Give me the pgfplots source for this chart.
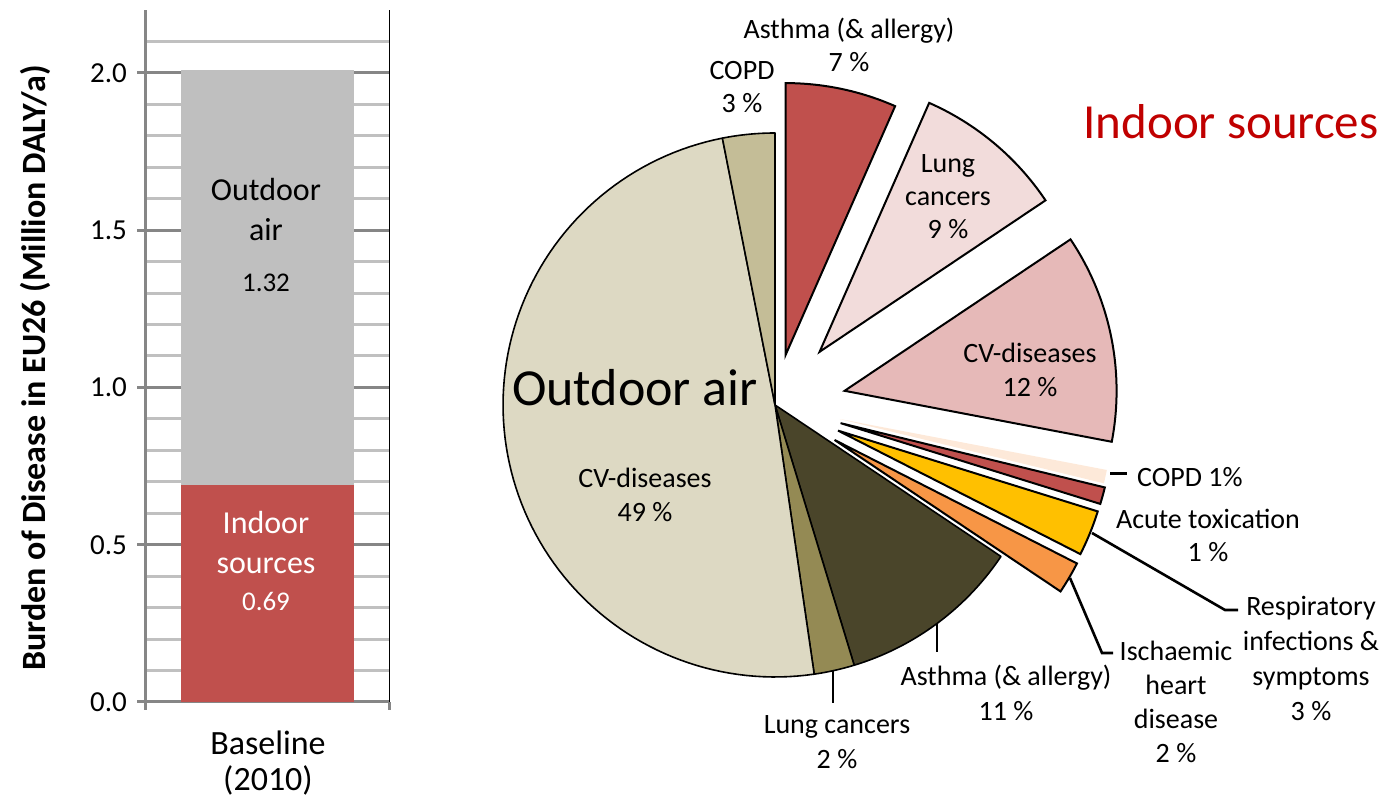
\documentclass[border=0pt]{standalone}
\usepackage{fontspec}
\setmainfont{Carlito}
\usepackage{pgfplots}
\pgfplotsset{compat=1.18}

\definecolor{barred}{HTML}{C0504D}
\definecolor{bargray}{HTML}{BFBFBF}
\definecolor{gridmajor}{HTML}{868686}
\definecolor{gridminor}{HTML}{C0C0C0}
\definecolor{cvout}{HTML}{DDD9C3}
\definecolor{copdout}{HTML}{C4BD97}
\definecolor{lungout}{HTML}{948A54}
\definecolor{asthmaout}{HTML}{4A452A}
\definecolor{asthmain}{HTML}{C0504D}
\definecolor{lungin}{HTML}{F2DCDB}
\definecolor{cvin}{HTML}{E6B9B8}
\definecolor{copdin}{HTML}{FDE9D9}
\definecolor{acutein}{HTML}{C0504D}
\definecolor{respin}{HTML}{FFC000}
\definecolor{ischin}{HTML}{F79646}
\definecolor{titlered}{HTML}{C00000}

% ---- data: burden of disease (Million DALY/a) ----
\def\indoorval{0.69}
\def\outdoorval{1.32}
% ---- pie shares (% of total burden) ----
\def\vAI{6.6}  % indoor asthma
\def\vLI{9.0}  % indoor lung cancers
\def\vCI{12.4} % indoor CV diseases
\def\vOI{0.8}  % indoor COPD
\def\vTI{1.0}  % acute toxication
\def\vRI{2.7}  % respiratory infections
\def\vHI{1.9}  % ischaemic heart disease
\def\vAO{10.9} % outdoor asthma
\def\vLO{2.4}  % outdoor lung cancers
\def\vCO{49.2} % outdoor CV diseases
\def\vOO{3.1}  % outdoor COPD

\pgfmathsetmacro\aA{90}
\pgfmathsetmacro\aB{\aA-3.6*\vAI}
\pgfmathsetmacro\aC{\aB-3.6*\vLI}
\pgfmathsetmacro\aD{\aC-3.6*\vCI}
\pgfmathsetmacro\aE{\aD-3.6*\vOI}
\pgfmathsetmacro\aF{\aE-3.6*\vTI}
\pgfmathsetmacro\aG{\aF-3.6*\vRI}
\pgfmathsetmacro\aH{\aG-3.6*\vHI}
\pgfmathsetmacro\aI{\aH-3.6*\vAO}
\pgfmathsetmacro\aJ{\aI-3.6*\vLO}
\pgfmathsetmacro\aK{\aJ-3.6*\vCO}
\pgfmathsetmacro\aL{\aK-3.6*\vOO}

\newcommand\offs[5]{\pgfmathsetmacro#1{#5*cos((#3+#4)/2)}\pgfmathsetmacro#2{#5*sin((#3+#4)/2)}}
\offs\xAI\yAI\aA\aB{0.1875}
\offs\xLI\yLI\aB\aC{0.255}
\offs\xCI\yCI\aC\aD{0.261}
\offs\xOI\yOI\aD\aE{0.243}
\offs\xTI\yTI\aE\aF{0.25}
\offs\xRI\yRI\aF\aG{0.25}
\offs\xHI\yHI\aG\aH{0.254}

\newcommand\pieslice[5]{\addplot[#1,domain=#2:#3,samples=100,variable=\t] ({#4+cos(\t)},{#5+sin(\t)}) -- (axis cs:#4,#5) -- cycle;}

\begin{document}
\begin{tikzpicture}
\useasboundingbox (0,0) rectangle (694pt,400.5pt);

% ================= bar chart =================
\begin{axis}[
  at={(72.5pt,49.5pt)}, anchor=south west,
  scale only axis, width=122.5pt, height=346pt,
  xmin=-1, xmax=1, ymin=0, ymax=2.2,
  ybar stacked, bar width=86pt,
  axis x line*=bottom, axis y line*=left,
  axis line style={draw=gridmajor, line width=1.5pt},
  ytick={0,0.5,1,1.5,2},
  minor ytick={0.1,0.2,0.3,0.4,0.6,0.7,0.8,0.9,1.1,1.2,1.3,1.4,1.6,1.7,1.8,1.9,2.1},
  ymajorgrids, yminorgrids,
  major grid style={draw=gridmajor, line width=1.5pt},
  minor grid style={draw=gridminor, line width=1.5pt},
  tick align=outside, major tick length=4pt, minor tick length=0pt,
  tick style={draw=gridmajor, line width=1.5pt},
  xtick={-1,1}, xticklabels={,,},
  yticklabel style={font=\fontsize{14.5}{14.5}\selectfont, xshift=-1.5pt},
  /pgf/number format/.cd, fixed, fixed zerofill, precision=1, assume math mode=true,
]
\addplot[fill=barred, draw=none] coordinates {(0,\indoorval)};
\addplot[fill=bargray, draw=none] coordinates {(0,\outdoorval)};
\draw[black, line width=0.6pt] (rel axis cs:1,0) -- (rel axis cs:1,1);
\end{axis}

% ================= pie chart =================
\begin{axis}[
  at={(224.32pt,-6pt)}, anchor=south west,
  scale only axis, width=476pt, height=408pt,
  xmin=-1.2, xmax=2.3, ymin=-1.5, ymax=1.5,
  hide axis, clip=false,
]
\pieslice{fill=asthmaout,draw=black,line width=0.8pt,line join=round}{\aI}{\aH}{0}{0}
\pieslice{fill=lungout,draw=black,line width=0.8pt,line join=round}{\aJ}{\aI}{0}{0}
\pieslice{fill=cvout,draw=black,line width=0.8pt,line join=round}{\aK}{\aJ}{0}{0}
\pieslice{fill=copdout,draw=black,line width=0.8pt,line join=round}{\aL}{\aK}{0}{0}
\pieslice{fill=asthmain,draw=black,line width=1pt}{\aB}{\aA}{\xAI}{\yAI}
\pieslice{fill=lungin,draw=black,line width=1pt}{\aC}{\aB}{\xLI}{\yLI}
\pieslice{fill=cvin,draw=black,line width=1pt}{\aD}{\aC}{\xCI}{\yCI}
\pieslice{fill=copdin,draw=none}{\aE}{\aD}{\xOI}{\yOI}
\pieslice{fill=acutein,draw=black,line width=1pt}{\aF}{\aE}{\xTI}{\yTI}
\pieslice{fill=respin,draw=black,line width=1pt}{\aG}{\aF}{\xRI}{\yRI}
\pieslice{fill=ischin,draw=black,line width=1pt}{\aH}{\aG}{\xHI}{\yHI}
\end{axis}

% ================= texts (pixel coordinates) =================
\begin{scope}[x=0.5pt,y=-0.5pt,yshift=400.5pt]
% bar chart texts
\node[rotate=90, font=\fontsize{17}{17}\selectfont\bfseries] at (35,368) {Burden of Disease in EU26 (Million DALY/a)};
\node[align=center, font=\fontsize{16}{20}\selectfont] at (266,210) {Outdoor\\air};
\node[font=\fontsize{13.5}{14}\selectfont] at (266,283) {1.32};
\node[align=center, text=white, font=\fontsize{16}{20}\selectfont] at (266,543) {Indoor\\sources};
\node[text=white, font=\fontsize{13.5}{14}\selectfont] at (266,602) {0.69};
\node[align=center, font=\fontsize{17}{18}\selectfont] at (268,763) {Baseline\\(2010)};
% pie texts
\node[font=\fontsize{26}{26}\selectfont] at (635,388) {Outdoor air};
\node[text=titlered, font=\fontsize{24.5}{24.5}\selectfont] at (1231,122) {Indoor sources};
\node[align=center, font=\fontsize{14}{16.5}\selectfont] at (849,44.5) {Asthma (\& allergy)\\7 \%};
\node[align=center, font=\fontsize{14}{16.5}\selectfont] at (742,87) {COPD\\3 \%};
\node[align=center, font=\fontsize{14}{16.5}\selectfont] at (948,197) {Lung\\cancers\\9 \%};
\node[align=center, font=\fontsize{14}{17}\selectfont] at (1030,370) {CV-diseases\\12 \%};
\node[anchor=west, font=\fontsize{14}{16.5}\selectfont] at (1130,477) {COPD 1\%};
\node[align=center, font=\fontsize{14}{16.5}\selectfont] at (1208,535.5) {Acute toxication\\1 \%};
\node[align=center, font=\fontsize{14}{17.5}\selectfont] at (1311,658) {Respiratory\\infections \&\\symptoms\\3 \%};
\node[align=center, font=\fontsize{14}{17}\selectfont] at (1176,702) {Ischaemic\\heart\\disease\\2 \%};
\node[align=center, font=\fontsize{14}{17.5}\selectfont] at (1006,692.5) {Asthma (\& allergy)\\11 \%};
\node[align=center, font=\fontsize{14}{17.5}\selectfont] at (837,742.5) {Lung cancers\\2 \%};
\node[align=center, font=\fontsize{14}{17}\selectfont] at (645,495) {CV-diseases\\49 \%};
% leader lines
\draw[line width=1.5pt] (1110,474) -- (1127,474);
\draw[line width=1.3pt] (1092,533) -- (1225,610) -- (1238,610);
\draw[line width=1.3pt] (1070,578) -- (1102,653) -- (1113,653);
\draw[line width=1.3pt] (937,623) -- (937,652);
\draw[line width=1.3pt] (833,670) -- (833,703);
\end{scope}
\end{tikzpicture}
\end{document}
